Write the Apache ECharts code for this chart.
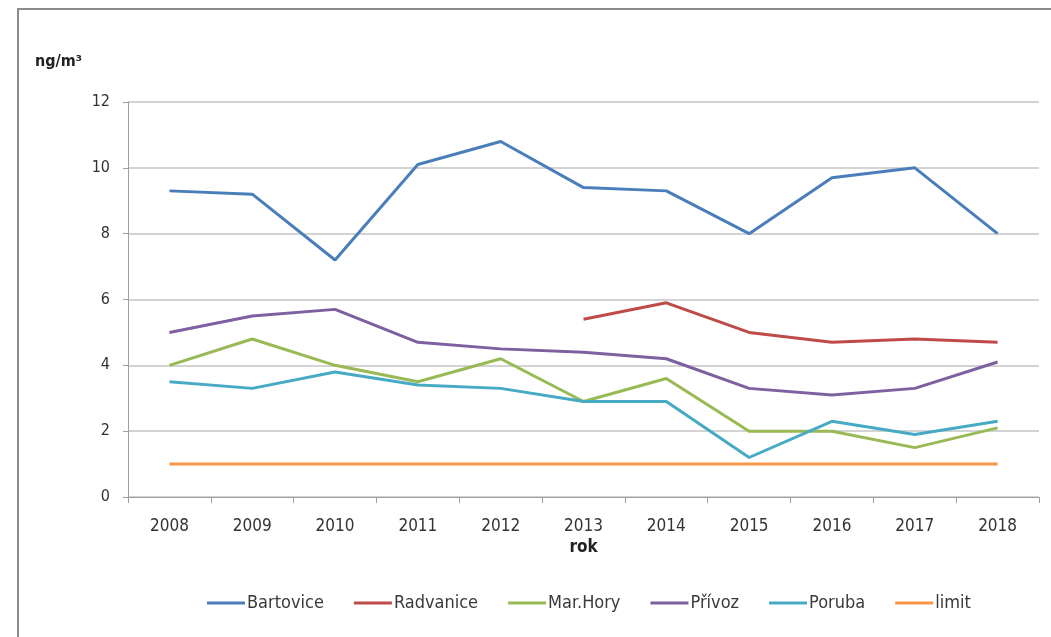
<!DOCTYPE html>
<html>
<head>
<meta charset="utf-8">
<script src="https://cdn.jsdelivr.net/npm/echarts@6/dist/echarts.min.js"></script>
<style>
html,body{margin:0;padding:0;background:#fff;}
#frame{position:absolute;left:17px;top:8px;width:1034px;height:629px;border-left:2px solid #8c8c8c;border-top:2px solid #8c8c8c;box-sizing:border-box;}
#chart{position:absolute;left:0;top:0;width:1051px;height:637px;}
</style>
</head>
<body>
<div id="frame"></div>
<div id="chart"></div>
<script>
var years = ['2008','2009','2010','2011','2012','2013','2014','2015','2016','2017','2018'];
var bartovice = [9.3, 9.2, 7.2, 10.1, 10.8, 9.4, 9.3, 8.0, 9.7, 10.0, 8.0];
var radvanice = [null, null, null, null, null, 5.4, 5.9, 5.0, 4.7, 4.8, 4.7];
var marHory   = [4.0, 4.8, 4.0, 3.5, 4.2, 2.9, 3.6, 2.0, 2.0, 1.5, 2.1];
var privoz    = [5.0, 5.5, 5.7, 4.7, 4.5, 4.4, 4.2, 3.3, 3.1, 3.3, 4.1];
var poruba    = [3.5, 3.3, 3.8, 3.4, 3.3, 2.9, 2.9, 1.2, 2.3, 1.9, 2.3];
var limit     = [1, 1, 1, 1, 1, 1, 1, 1, 1, 1, 1];
var seriesNames = ['Bartovice','Radvanice','Mar.Hory','Přívoz','Poruba','limit'];
var seriesData = [bartovice, radvanice, marHory, privoz, poruba, limit];
var colors = ['#4a7ebb','#be4b48','#98b954','#7d60a0','#46aac5','#f79646'];

var font = '"Liberation Sans Narrow","DejaVu Sans Condensed",sans-serif';
var chart = echarts.init(document.getElementById('chart'));
chart.setOption({
  animation: false,
  color: colors,
  textStyle: {fontFamily: font},
  grid: {left: 128, right: 12, top: 102, bottom: 140},
  legend: {
    bottom: 20, left: 202,
    itemWidth: 38, itemHeight: 3, itemGap: 30,
    icon: 'rect',
    textStyle: {fontFamily: font, fontSize: 18, color: '#3a3a3a', padding: [0,0,0,-3]},
    data: seriesNames
  },
  xAxis: {
    type: 'category',
    data: years,
    boundaryGap: true,
    name: 'rok',
    nameLocation: 'middle',
    nameGap: 42,
    nameMoveOverlap: false,
    nameTextStyle: {fontFamily: font, fontSize: 17, fontWeight: 'bold', color: '#222'},
    axisLine: {lineStyle: {color: '#a0a0a0', width: 1}},
    axisTick: {show: true, length: 6, lineStyle: {color: '#a0a0a0'}},
    axisLabel: {fontFamily: font, fontSize: 17, color: '#333', margin: 21}
  },
  yAxis: {
    type: 'value',
    min: 0, max: 12, interval: 2,
    name: 'ng/m³',
    nameLocation: 'end',
    nameGap: 32,
    nameTextStyle: {fontFamily: font, fontSize: 16, fontWeight: 'bold', color: '#222', align: 'right', padding: [0, 46, 0, 0]},
    axisLine: {show: true, lineStyle: {color: '#a0a0a0', width: 1}},
    axisTick: {show: true, length: 5, lineStyle: {color: '#a0a0a0'}},
    axisLabel: {fontFamily: font, fontSize: 16, color: '#333', margin: 18},
    splitLine: {lineStyle: {color: '#c4c4c4', width: 1.5}}
  },
  series: seriesNames.map(function(n, i){
    return {
      name: n, type: 'line', data: seriesData[i],
      symbol: 'none', connectNulls: false,
      lineStyle: {width: 3, color: colors[i]},
      itemStyle: {color: colors[i]}
    };
  })
});
</script>
</body>
</html>
